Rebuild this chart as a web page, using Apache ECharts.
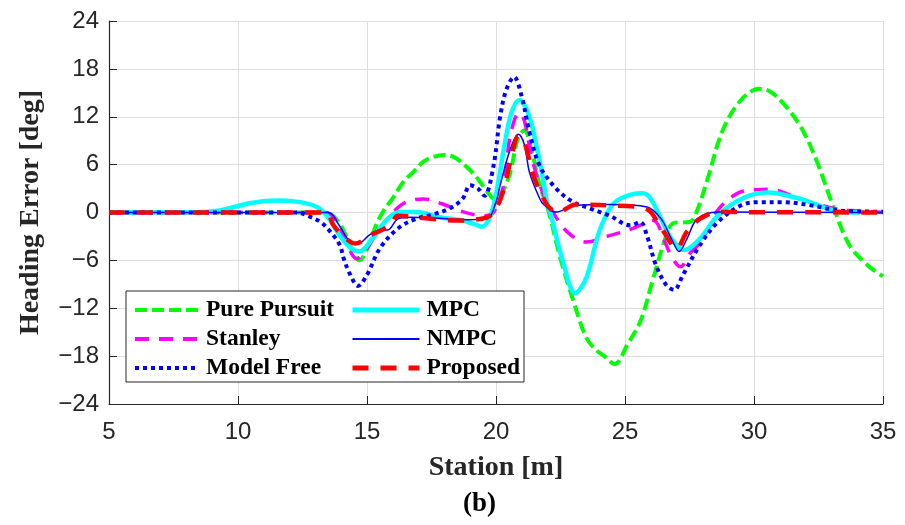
<!DOCTYPE html>
<html>
<head>
<meta charset="utf-8">
<script src="https://cdn.jsdelivr.net/npm/echarts@6/dist/echarts.min.js"></script>
<style>html,body{margin:0;padding:0;background:#fff;}#c{width:905px;height:525px;}</style>
</head>
<body>
<div id="c"></div>
<script>
const seriesNames = ['Pure Pursuit','Stanley','Model Free','MPC','NMPC','Proposed'];
const xTicks = [5,10,15,20,25,30,35];
const yTicks = [-24,-18,-12,-6,0,6,12,18,24];

const purePursuit = [[5,0],[13.4,0],[13.8,-0.8],[14.2,-3],[14.45,-5],[14.7,-6],[15.0,-4.6],[15.3,-2],[15.6,0],[16.0,1.8],[16.4,3.8],[16.8,5.1],[17.2,6.4],[17.6,7.0],[18.0,7.2],[18.4,6.9],[18.9,5.6],[19.3,4.2],[19.6,2.9],[19.95,1.7],[20.25,2.6],[20.55,5.0],[20.85,9.3],[21.1,10.3],[21.4,7.5],[21.7,3.3],[22.0,0.6],[22.5,-5.8],[23.0,-11.1],[23.5,-15.7],[23.9,-17.3],[24.2,-18.0],[24.6,-19.0],[25.1,-16.5],[25.6,-13.6],[26.1,-8.2],[26.6,-2.9],[26.9,-1.3],[27.5,-1.2],[27.8,0.3],[28.2,4.2],[28.8,10.4],[29.5,14.1],[30.2,15.5],[30.6,15.2],[31.1,13.8],[31.8,10.8],[32.4,6.7],[33.1,0.5],[33.7,-4.1],[34.4,-6.6],[35,-8.0]];
const stanley = [[5,0],[13.4,0],[13.8,-1],[14.2,-3.8],[14.6,-5.8],[15.0,-4.5],[15.4,-2.4],[15.9,-0.4],[16.3,0.9],[16.7,1.5],[17.2,1.7],[17.9,1.1],[18.7,0.1],[19.5,-0.4],[19.9,0],[20.3,3.5],[20.55,9.6],[20.9,12.5],[21.1,11.5],[21.4,6.7],[21.8,2.6],[22.2,0.1],[22.75,-2.4],[23.5,-3.7],[24.3,-3.0],[25.3,-2.0],[26.1,-1.0],[26.5,-3.3],[26.8,-5.5],[27.15,-6.8],[27.5,-5.2],[27.9,-3.8],[28.2,-2.2],[28.6,0.3],[29.2,2.1],[29.6,2.7],[30.6,2.9],[31.8,1.7],[33.1,0.5],[34,0.2],[35,0]];
const modelFree = [[5,0],[12.3,0],[12.7,-0.4],[13.2,-1.2],[13.6,-2.5],[13.95,-4.1],[14.1,-5.8],[14.35,-7.8],[14.65,-9.2],[15.0,-7.8],[15.5,-4.5],[16.2,-2.0],[16.9,-0.8],[17.6,-0.2],[18.2,0.5],[18.7,1.7],[19.0,3.4],[19.3,3.0],[19.55,2.1],[19.9,5.8],[20.16,12],[20.4,15.4],[20.7,17.0],[21.0,14.5],[21.3,10],[21.7,5.8],[22.36,2.9],[23.0,1.3],[23.65,0.5],[24.4,-0.4],[25.2,-1.6],[25.6,-1.2],[25.85,-2.9],[26.2,-6.6],[26.6,-9.1],[26.9,-9.7],[27.25,-7.8],[27.9,-4.1],[28.6,-1.2],[29.5,0.9],[30.2,1.3],[31.1,1.3],[32.2,0.9],[33.3,0.25],[35,0.1]];
const mpc = [[5,0],[8.5,0.05],[9.3,0.25],[10.5,1.2],[11.6,1.5],[12.4,1.3],[13.05,0.7],[13.44,-0.4],[13.95,-2.9],[14.35,-4.4],[14.7,-4.9],[15.2,-3.3],[15.8,-0.8],[16.3,0.05],[16.9,0.05],[17.8,-0.6],[18.7,-1.0],[19.2,-1.5],[19.45,-1.8],[19.7,-1.0],[19.9,0.8],[20.1,4],[20.35,8.8],[20.6,12.5],[20.9,14.1],[21.15,13.2],[21.4,10.8],[21.8,4.6],[22.0,0.8],[22.1,0.05],[22.6,-6.2],[23.07,-10.1],[23.5,-8.2],[24.0,-2.4],[24.55,1.1],[25.3,2.3],[25.7,2.4],[26.0,1.7],[26.4,-0.8],[26.8,-3.3],[27.3,-4.7],[27.9,-3.3],[28.6,-0.4],[29.5,1.7],[30.5,2.5],[31.8,1.7],[33.1,0.25],[34.1,0]];
const nmpc = [[5,0],[13.5,0],[13.9,-1.5],[14.35,-3.7],[14.65,-3.9],[15.1,-2.8],[15.5,-2.2],[15.8,-2.2],[16.2,-0.8],[16.7,-0.6],[17.6,-0.7],[18.9,-0.9],[19.65,-0.8],[20.0,1.3],[20.16,3.4],[20.55,7.9],[20.87,9.8],[21.1,8.5],[21.3,5.0],[21.7,1.7],[21.85,1.0],[22.3,0.05],[23.1,0.9],[24.4,1.0],[25.85,0.7],[26.4,-0.8],[26.8,-3.3],[27.1,-4.9],[27.4,-3.3],[27.8,-0.8],[28.6,0.05],[35,0]];
const proposed = [[5,0],[13.4,0],[13.7,-1.6],[14.1,-3.0],[14.54,-3.9],[15.1,-2.9],[15.9,-1.6],[16.2,-0.4],[16.9,-0.6],[18.5,-1.0],[19.65,-0.6],[20.0,0.5],[20.3,2.9],[20.6,7],[20.87,9.6],[21.1,8.8],[21.45,4.6],[21.85,1.7],[22.1,0.5],[22.4,0.05],[23.1,1.0],[25.1,0.8],[25.7,0.6],[26.0,0.05],[26.5,-2.4],[27.0,-4.5],[27.4,-2.4],[27.9,-0.8],[28.6,0.05],[35,0]];

const serif = '"Liberation Serif","Times New Roman",serif';
const sans = '"Liberation Sans",Arial,sans-serif';
const chart = echarts.init(document.getElementById('c'), null, {renderer:'canvas'});
function mk(name, data, color, width, type, z) {
  return {name, type:'line', data, smooth:0.35, showSymbol:false, symbol:'none', z,
    lineStyle:{color, width, type, cap:'butt'}, itemStyle:{color}, animation:false};
}
const legendText = {fontFamily:serif, fontWeight:'bold', fontSize:23.5, lineHeight:24, color:'#000', padding:[0,0,0,2]};
const legendCommon = {orient:'vertical', top:298, itemWidth:64, itemHeight:20, itemGap:5, padding:0,
  selectedMode:false, z:10, textStyle:legendText, itemStyle:{opacity:0}};
chart.setOption({
  backgroundColor:'#fff',
  animation:false,
  grid:{left:109, right:22, top:21, bottom:121, containLabel:false},
  xAxis:{type:'value', min:5, max:35, interval:5,
    name:'Station [m]', nameLocation:'middle', nameGap:50,
    nameTextStyle:{fontFamily:serif, fontWeight:'bold', fontSize:28, color:'#262626'},
    axisLine:{show:true, onZero:false, lineStyle:{color:'#262626', width:1.2}},
    axisTick:{show:true, inside:true, length:8, lineStyle:{color:'#262626'}},
    axisLabel:{fontFamily:sans, fontSize:24, color:'#262626', margin:16,
      formatter:v=> xTicks.includes(v) ? String(v) : ''},
    splitLine:{show:true, lineStyle:{color:'#dedede', width:1}}},
  yAxis:{type:'value', min:-24, max:24, interval:6,
    name:'Heading Error [deg]', nameLocation:'middle', nameGap:64,
    nameTextStyle:{fontFamily:serif, fontWeight:'bold', fontSize:28, color:'#262626'},
    axisLine:{show:true, onZero:false, lineStyle:{color:'#262626', width:1.2}},
    axisTick:{show:true, inside:true, length:8, lineStyle:{color:'#262626'}},
    axisLabel:{fontFamily:sans, fontSize:24, color:'#262626', margin:10,
      formatter:v=> yTicks.includes(v) ? String(v).replace('-', '\u2212') : ''},
    splitLine:{show:true, lineStyle:{color:'#dedede', width:1}}},
  legend:[
    Object.assign({data:[
      {name:seriesNames[0], lineStyle:{width:4}},
      {name:seriesNames[1], lineStyle:{width:4}},
      {name:seriesNames[2], lineStyle:{width:4}}], left:133}, legendCommon),
    Object.assign({data:[
      {name:seriesNames[3], lineStyle:{width:5}},
      {name:seriesNames[4], lineStyle:{width:2}},
      {name:seriesNames[5], lineStyle:{width:5}}], left:350}, legendCommon, {itemWidth:67})
  ],
  graphic:[{type:'rect', z:9, shape:{x:126, y:291, width:398, height:91},
    style:{fill:'#fff', stroke:'#262626', lineWidth:1}}],
  title:{text:'{p|(}{b|b}{p|)}', left:463, top:491, padding:0,
    textStyle:{rich:{p:{fontFamily:serif, fontSize:27, color:'#000'}, b:{fontFamily:serif, fontSize:27, fontWeight:'bold', color:'#000'}}}},
  series:[
    mk(seriesNames[0], purePursuit, '#00ff00', 4, [12,5], 2),
    mk(seriesNames[1], stanley, '#ff00ff', 3.5, [14,10], 3),
    mk(seriesNames[2], modelFree, '#0000ff', 4, [4,4], 4),
    mk(seriesNames[3], mpc, '#00ffff', 4.5, 'solid', 3),
    mk(seriesNames[4], nmpc, '#0000ff', 1.5, 'solid', 5),
    mk(seriesNames[5], proposed, '#ff0000', 4.5, [16,12], 6)
  ]
});
</script>
</body>
</html>
